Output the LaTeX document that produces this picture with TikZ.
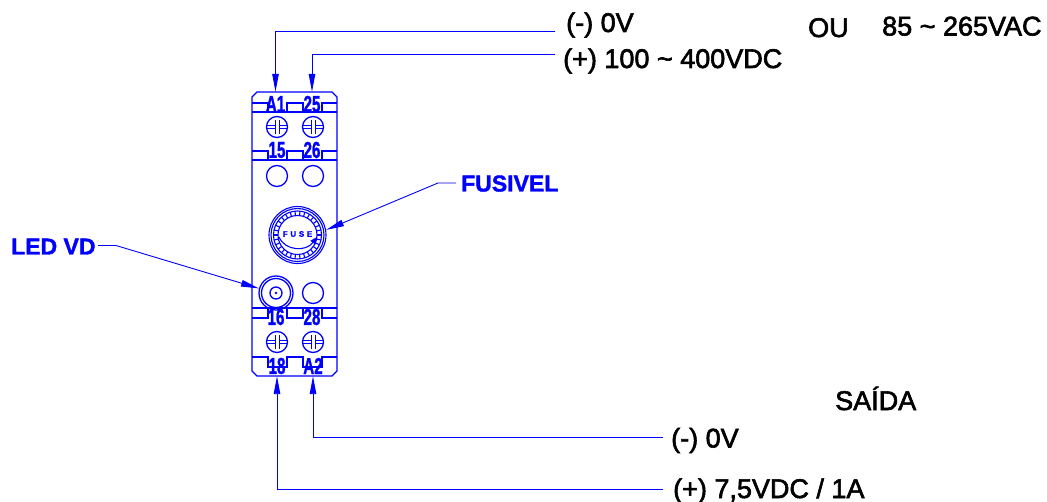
\documentclass[tikz,border=0pt]{standalone}
\usepackage{fontspec}
\setmainfont{Liberation Sans}
\newfontfamily\heavyfont[FakeBold=2.2]{Liberation Sans}
\newfontfamily\blockfont[FakeBold=1.6]{Liberation Sans Bold}
\usepackage{tikz}
\usetikzlibrary{arrows.meta,calc}

\definecolor{wireblue}{RGB}{0,0,255}
\newcommand{\termtext}[1]{\scalebox{0.66}[1]{\fontsize{23}{23}\blockfont #1}}
\tikzset{
    device/.style={draw=wireblue,line width=1.3pt},
    wire/.style={draw=wireblue,line width=0.9pt},
    arrowed/.style={wire,-{Triangle[length=18pt,width=6.5pt]}},
    blacktext/.style={inner sep=0pt,anchor=base west,font=\fontsize{27}{27}\heavyfont},
    bluetext/.style={inner sep=0pt,anchor=base west,text=wireblue,font=\fontsize{23}{24}\blockfont},
    termlabel/.style={inner sep=0pt,text=wireblue,minimum width=16pt},
    hole/.style={circle,draw=wireblue,line width=1.3pt,inner sep=0pt,minimum size=21pt},
}

\begin{document}
\begin{tikzpicture}[x=1pt,y=-1pt]
    \useasboundingbox (0,0) rectangle (1047,502);
    % body
    \draw[device] (257,92) -- (332,92) -- (337,97) -- (337,371) -- (332,376) -- (257,376) -- (252,371) -- (252,97) -- cycle;
    \foreach \ya/\yb in {103/112,151/160,318/308} {
        \draw[device] (252,\yb) -- (337,\yb);
        \draw[device] (252,\ya) -- (268,\ya) -- (268,\yb);
        \draw[device] (287,\yb) -- (287,\ya) -- (303,\ya) -- (303,\yb);
        \draw[device] (322,\yb) -- (322,\ya) -- (337,\ya);
    }
    \draw[device] (252,357) -- (268,357) -- (268,367) -- (287,367) -- (287,357) -- (303,357) -- (303,367) -- (322,367) -- (322,357) -- (337,357);
    % screws
    \foreach \cx/\cy in {277/127,313/127,277/342,313/342} {
        \draw[device] (\cx,\cy) circle (10.5);
        \draw[device,line width=0.9pt] (\cx-10,\cy-1.5) -- (\cx-2,\cy-1.5) (\cx-10,\cy+1.5) -- (\cx-2,\cy+1.5);
        \draw[device,line width=0.9pt] (\cx+2,\cy-1.5) -- (\cx+10,\cy-1.5) (\cx+2,\cy+1.5) -- (\cx+10,\cy+1.5);
        \draw[device,line width=0.9pt] (\cx-2,\cy-7) -- (\cx-2,\cy+7) (\cx+2,\cy-7) -- (\cx+2,\cy+7);
    }
    % holes
    \node[hole] (hole15) at (277,176) {};
    \node[hole] (hole26) at (313,176) {};
    \node[hole] (hole28) at (313,293) {};
    % fuse
    \node[circle,draw=wireblue,line width=1.1pt,inner sep=0pt,minimum size=57pt] (fuse) at (297.5,235) {};
    \draw[device,line width=1.1pt] (fuse) circle (26.5);
    \draw[device,line width=1.1pt] (fuse) circle (24);
    \draw[device,line width=1.1pt] (fuse) circle (19.5);
    \foreach \ang in {0,12,...,348} {
        \draw[device,line width=1.1pt] ($(fuse)+(\ang:19.5)$) -- ($(fuse)+(\ang:24)$);
    }
    \node[inner sep=0pt,text=wireblue,font=\fontsize{8}{8}\blockfont] (fusetext) at (297.5,234) {F\,\,U\,\,S\,\,E};
    \draw[device,line width=1.1pt,-{Triangle[length=7pt,width=6pt]}] (279,237) .. controls (285,251) and (306,252) .. (317,237);
    % led
    \node[circle,draw=wireblue,line width=1.3pt,inner sep=0pt,minimum size=34pt] (led) at (276,293) {};
    \draw[device] (led) circle (14.5);
    \draw[device] (led) circle (6);
    \fill[wireblue] (led) circle (1.3);
    % terminals
    \node[termlabel,minimum height=24pt] (termA1) at (275.5,104) {\termtext{A1}};
    \node[termlabel,minimum height=24pt] (term25) at (312,104) {\termtext{25}};
    \node[termlabel] (term15) at (277,150) {\termtext{15}};
    \node[termlabel] (term26) at (312,150) {\termtext{26}};
    \node[termlabel] (term16) at (276,317) {\termtext{16}};
    \node[termlabel] (term28) at (312,317) {\termtext{28}};
    \node[termlabel,minimum height=20pt] (term18) at (277,366) {\termtext{18}};
    \node[termlabel,minimum height=20pt] (termA2) at (313,366) {\termtext{A2}};
    % texts
    \node[blacktext] (neg) at (566,32) {(-) 0V};
    \node[blacktext] (pos) at (563,68) {(+) 100 \textasciitilde{} 400VDC};
    \node[blacktext] (ou) at (808,37) {OU};
    \node[blacktext] (vac) at (882,35.5) {85 \textasciitilde{} 265VAC};
    \node[blacktext] (saida) at (835,410) {SAÍDA};
    \node[blacktext] (outneg) at (671,447.5) {(-) 0V};
    \node[blacktext] (outpos) at (673,498) {(+) 7,5VDC / 1A};
    \node[bluetext] (fusivel) at (461,191.5) {FUSIVEL};
    \node[bluetext] (ledvd) at (11,254.5) {LED VD};
    % free ends of the wires
    \coordinate (negend) at (555,31);
    \coordinate (posend) at (555,54);
    \coordinate (outnegend) at (663,437.5);
    \coordinate (outposend) at (663,489.5);
    \coordinate (fusivelend) at (456,183);
    \coordinate (fusivelbend) at (438,183);
    \coordinate (ledend) at (98,245.5);
    \coordinate (ledbend) at (116,245.5);
    % wires
    \draw[arrowed] (negend) -| (termA1.north);
    \draw[arrowed] (posend) -| (term25.north);
    \draw[arrowed] (outnegend) -| (termA2.south);
    \draw[arrowed] (outposend) -| (term18.south);
    \draw[arrowed] (fusivelend) -- (fusivelbend) -- (fuse.10);
    \draw[arrowed] (ledend) -- (ledbend) -- (led.165);
\end{tikzpicture}
\end{document}
